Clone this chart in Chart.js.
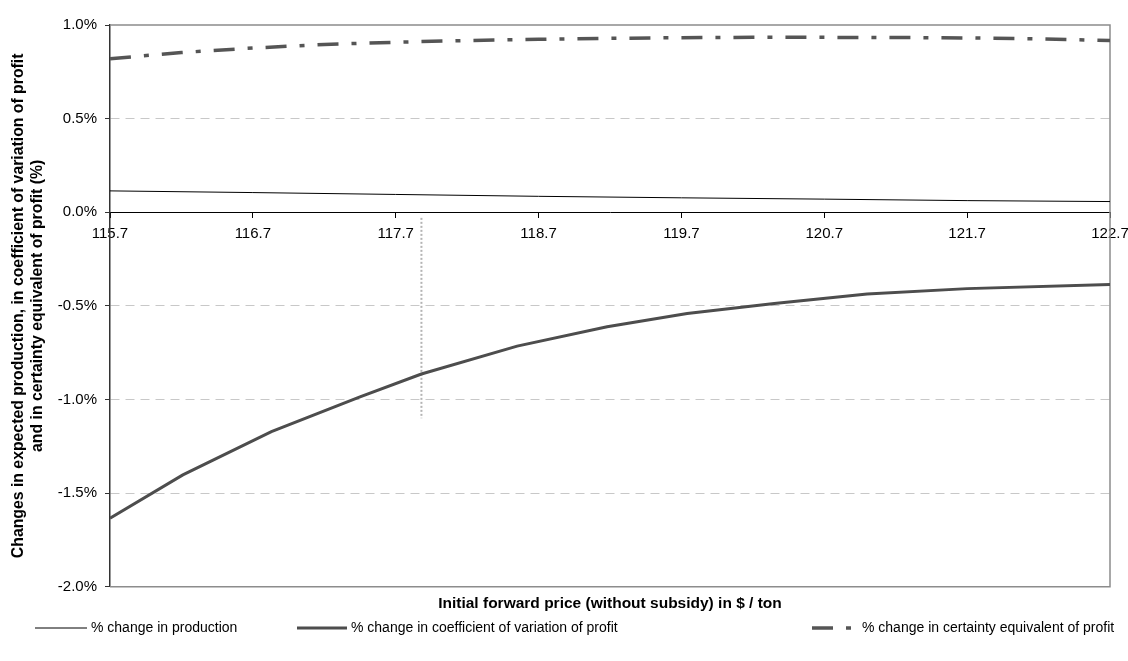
<!DOCTYPE html>
<html>
<head>
<meta charset="utf-8">
<script src="https://cdn.jsdelivr.net/npm/chart.js@4.4.0/dist/chart.umd.min.js"></script>
<style>
  html, body { margin: 0; padding: 0; background: #fff; }
</style>
</head>
<body>
<canvas id="myChart" width="1128" height="661"></canvas>
<script>
// values (x = forward price, y = % change)
const xTicks = [115.7, 116.7, 117.7, 118.7, 119.7, 120.7, 121.7, 122.7];
const yTicks = [1.0, 0.5, 0.0, -0.5, -1.0, -1.5, -2.0];

const prodX = [115.7, 116.7, 117.7, 118.7, 119.7, 120.7, 121.7, 122.7];
const prodY = [0.114, 0.105, 0.095, 0.085, 0.077, 0.070, 0.062, 0.057];

const cvX = [115.7, 116.21, 116.83, 117.45, 117.88, 118.55, 119.18, 119.74, 120.35, 121.0, 121.7, 122.7];
const cvY = [-1.634, -1.403, -1.172, -0.986, -0.864, -0.715, -0.612, -0.541, -0.487, -0.437, -0.408, -0.386];

const ceX = [115.7, 116.2, 116.7, 117.2, 117.7, 118.2, 118.7, 119.2, 119.7, 120.2, 120.7, 121.2, 121.7, 122.2, 122.7];
const ceY = [0.820, 0.853, 0.877, 0.896, 0.908, 0.917, 0.924, 0.929, 0.932, 0.934, 0.934, 0.933, 0.931, 0.926, 0.917];

// dotted marker at the observed price
const markX = [117.88, 117.88];
const markY = [-0.03, -1.10];

const seriesNames = [
  '% change in production',
  '% change in coefficient of variation of profit',
  '% change in certainty equivalent of profit'
];
const xTitle = 'Initial forward price (without subsidy) in $ / ton';
const yTitle = ['Changes in expected production, in coefficient of variation of profit',
                'and in certainty equivalent of profit (%)'];

const FONT = "'Liberation Sans', Arial, sans-serif";
const pts = (xs, ys) => xs.map((x, i) => ({ x: x, y: ys[i] }));

// gray frame on top / right / bottom of the plot
const framePlugin = {
  id: 'frame',
  beforeDatasetsDraw(chart) {
    const a = chart.chartArea, ctx = chart.ctx;
    ctx.save();
    ctx.strokeStyle = '#8c8c8c';
    ctx.lineWidth = 1.5;
    ctx.beginPath();
    ctx.moveTo(a.left, a.top);
    ctx.lineTo(a.right, a.top);
    ctx.lineTo(a.right, a.bottom);
    ctx.lineTo(a.left, a.bottom);
    ctx.stroke();
    ctx.restore();
  }
};

// legend in one row under the x title
const legendPlugin = {
  id: 'rowLegend',
  afterDraw(chart) {
    const ctx = chart.ctx;
    const y = 628;
    const spots = [[35, 87], [297, 347], [812, 858]];
    ctx.save();
    ctx.font = '14px ' + FONT;
    ctx.textBaseline = 'middle';
    ctx.fillStyle = '#000';
    spots.forEach((s, i) => {
      const ds = chart.data.datasets[i];
      ctx.strokeStyle = ds.borderColor;
      ctx.lineWidth = ds.borderWidth;
      ctx.setLineDash(ds.borderDash || []);
      ctx.beginPath();
      ctx.moveTo(s[0], y);
      ctx.lineTo(s[1], y);
      ctx.stroke();
      ctx.setLineDash([]);
      ctx.fillText(seriesNames[i], s[1] + 4, y);
    });
    ctx.restore();
  }
};

const ctx = document.getElementById('myChart');
const myChart = new Chart(ctx, {
  type: 'scatter',
  data: {
    datasets: [
      {
        label: seriesNames[0],
        data: pts(prodX, prodY),
        showLine: true,
        borderColor: '#000',
        borderWidth: 1,
        pointRadius: 0,
        order: 2
      },
      {
        label: seriesNames[1],
        data: pts(cvX, cvY),
        showLine: true,
        borderColor: '#4d4d4d',
        borderWidth: 3,
        pointRadius: 0,
        order: 1
      },
      {
        label: seriesNames[2],
        data: pts(ceX, ceY),
        showLine: true,
        borderColor: '#555555',
        borderWidth: 3.5,
        borderDash: [21, 13, 5, 13],
        pointRadius: 0,
        order: 3
      },
      {
        label: 'marker',
        data: pts(markX, markY),
        showLine: true,
        borderColor: '#b4b4b4',
        borderWidth: 2,
        borderDash: [2, 2],
        pointRadius: 0,
        order: 4
      }
    ]
  },
  options: {
    responsive: false,
    animation: false,
    devicePixelRatio: 1,
    layout: { padding: { left: 0, top: 25, right: 0, bottom: 48 } },
    scales: {
      x: {
        type: 'linear',
        position: { y: 0 },
        min: 115.7,
        max: 122.7,
        afterBuildTicks: scale => { scale.ticks = xTicks.map(v => ({ value: v })); },
        afterFit: scale => { scale.paddingRight = 18; },
        ticks: {
          autoSkip: false,
          maxRotation: 0,
          padding: 8,
          color: '#000',
          font: { family: FONT, size: 15 },
          callback: v => v.toFixed(1)
        },
        grid: { drawOnChartArea: false, tickLength: 5, tickColor: '#000', tickWidth: 1 },
        border: { display: true, color: '#000', width: 1 }
      },
      y: {
        min: -2,
        max: 1,
        afterBuildTicks: scale => { scale.ticks = yTicks.map(v => ({ value: v })); },
        afterFit: scale => { scale.width = 110; },
        ticks: {
          padding: 8,
          color: '#000',
          font: { family: FONT, size: 15 },
          callback: v => v.toFixed(1) + '%'
        },
        grid: {
          tickLength: 5,
          tickColor: '#333',
          color: c => ([0.5, -0.5, -1, -1.5].includes(Math.round(c.tick.value * 10) / 10) ? '#c8c8c8' : 'rgba(0,0,0,0)')
        },
        border: { display: true, color: '#333', width: 1.5, dash: [9, 6] },
        title: {
          display: true,
          text: yTitle,
          color: '#000',
          padding: { top: 9, bottom: 0 },
          font: { family: FONT, size: 15.8, weight: 'bold', lineHeight: 1.2 }
        }
      }
    },
    plugins: {
      legend: { display: false },
      tooltip: { enabled: false },
      title: {
        display: true,
        position: 'bottom',
        fullSize: false,
        text: xTitle,
        color: '#000',
        padding: { top: 7.7, bottom: 0 },
        font: { family: FONT, size: 15.5, weight: 'bold', lineHeight: 1.2 }
      }
    }
  },
  plugins: [framePlugin, legendPlugin]
});
</script>
</body>
</html>
